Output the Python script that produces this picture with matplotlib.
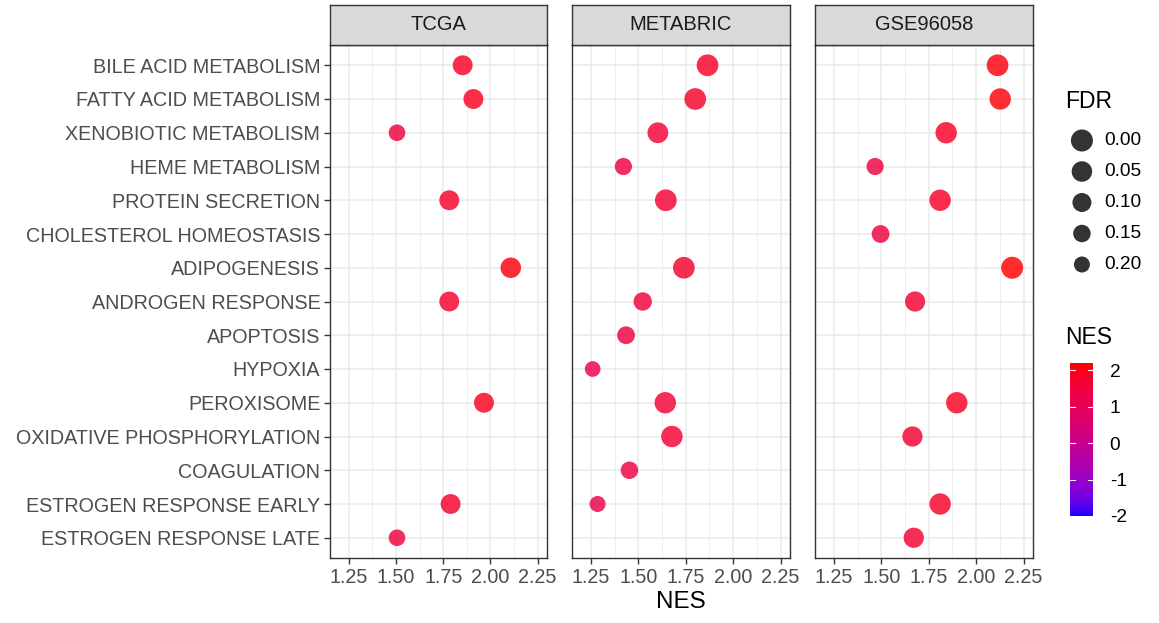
import numpy as np
import matplotlib
matplotlib.use("Agg")
import matplotlib.pyplot as plt
from matplotlib.colors import ListedColormap, Normalize
from matplotlib.cm import ScalarMappable

plt.rcParams["font.family"] = ["Liberation Sans", "DejaVu Sans"]

# data: pathways top to bottom, NaN = not enriched in that cohort
pathways = ["BILE ACID METABOLISM", "FATTY ACID METABOLISM", "XENOBIOTIC METABOLISM",
            "HEME METABOLISM", "PROTEIN SECRETION", "CHOLESTEROL HOMEOSTASIS",
            "ADIPOGENESIS", "ANDROGEN RESPONSE", "APOPTOSIS", "HYPOXIA",
            "PEROXISOME", "OXIDATIVE PHOSPHORYLATION", "COAGULATION",
            "ESTROGEN RESPONSE EARLY", "ESTROGEN RESPONSE LATE"]
datasets = ["TCGA", "METABRIC", "GSE96058"]
nan = np.nan
tcga_nes = [1.853, 1.910, 1.505, nan, 1.782, nan, 2.108, 1.782, nan, nan, 1.966, nan, nan, 1.789, 1.505]
tcga_fdr = [0.07, 0.07, 0.18, nan, 0.07, nan, 0.05, 0.07, nan, nan, 0.07, nan, nan, 0.07, 0.18]
metabric_nes = [1.865, 1.800, 1.603, 1.421, 1.645, nan, 1.740, 1.523, 1.435, 1.259, 1.642, 1.677, 1.453, 1.285, nan]
metabric_fdr = [0.01, 0.01, 0.04, 0.16, 0.01, nan, 0.01, 0.12, 0.14, 0.21, 0.02, 0.02, 0.15, 0.20, nan]
gse_nes = [2.113, 2.127, 1.842, 1.467, 1.810, 1.496, 2.190, 1.678, nan, nan, 1.898, 1.664, nan, 1.810, 1.671]
gse_fdr = [0.01, 0.02, 0.02, 0.16, 0.02, 0.14, 0.00, 0.06, nan, nan, 0.02, 0.06, nan, 0.02, 0.06]
fdr_breaks = [0.00, 0.05, 0.10, 0.15, 0.20]
nes_breaks = [-2, -1, 0, 1, 2]

nes_all = [tcga_nes, metabric_nes, gse_nes]
fdr_all = [tcga_fdr, metabric_fdr, gse_fdr]


# ggplot-like blue -> red gradient, interpolated in Lab space
M = np.array([[0.4124, 0.3576, 0.1805], [0.2126, 0.7152, 0.0722], [0.0193, 0.1192, 0.9505]])
WHITE = np.array([0.95047, 1.0, 1.08883])


def to_lab(c):
    c = np.asarray(c, float)
    lin = np.where(c <= 0.04045, c / 12.92, ((c + 0.055) / 1.055) ** 2.4)
    xyz = M @ lin / WHITE
    f = np.where(xyz > 216 / 24389, np.cbrt(xyz), (24389 / 27 * xyz + 16) / 116)
    return np.array([116 * f[1] - 16, 500 * (f[0] - f[1]), 200 * (f[1] - f[2])])


def from_lab(lab):
    L, a, b = lab
    fy = (L + 16) / 116
    f = np.array([fy + a / 500, fy, fy - b / 200])
    xyz = np.where(f ** 3 > 216 / 24389, f ** 3, (116 * f - 16) / (24389 / 27)) * WHITE
    lin = np.clip(np.linalg.inv(M) @ xyz, 0, 1)
    return np.clip(np.where(lin <= 0.0031308, 12.92 * lin, 1.055 * lin ** (1 / 2.4) - 0.055), 0, 1)


lo, hi = to_lab([0, 0, 1]), to_lab([1, 0, 0])
cmap = ListedColormap([from_lab(lo + t * (hi - lo)) for t in np.linspace(0, 1, 256)])
norm = Normalize(vmin=-2, vmax=2.2)


def size_of(fdr):
    d_px = 22 - 30 * np.asarray(fdr, float)
    return (d_px * 0.72) ** 2


W, H = 1159, 623
fig = plt.figure(figsize=(W / 100, H / 100), dpi=100)


def rect(x0, y0, x1, y1):
    return [x0 / W, 1 - y1 / H, (x1 - x0) / W, (y1 - y0) / H]


panels = [(330, 547), (572, 790), (815, 1033)]
ypos = np.arange(len(pathways))[::-1] + 1
edge = "#333333"

for i, (name, (x0, x1)) in enumerate(zip(datasets, panels)):
    ax = fig.add_axes(rect(x0, 45, x1, 558))
    ax.set_xlim(1.15, 2.30)
    ax.set_ylim(0.4, len(pathways) + 0.6)
    ax.set_xticks([1.25, 1.5, 1.75, 2.0, 2.25])
    ax.set_xticks([1.375, 1.625, 1.875, 2.125], minor=True)
    ax.set_yticks(ypos)
    ax.grid(True, which="major", color="#EBEBEB", lw=1.1)
    ax.grid(True, which="minor", axis="x", color="#EBEBEB", lw=0.55)
    ax.set_axisbelow(True)
    for s in ax.spines.values():
        s.set_color(edge)
        s.set_linewidth(1.0)
    ax.tick_params(axis="both", which="major", length=4, width=1, color=edge,
                   labelcolor="#4D4D4D", labelsize=14.2, pad=3)
    ax.tick_params(which="minor", length=0)
    if i == 0:
        ax.set_yticklabels(pathways)
    else:
        ax.tick_params(axis="y", length=0, labelleft=False)
    ax.set_xticklabels(["1.25", "1.50", "1.75", "2.00", "2.25"])
    nes = np.array(nes_all[i])
    fdr = np.array(fdr_all[i])
    ok = ~np.isnan(nes)
    ax.scatter(nes[ok], ypos[ok], s=size_of(fdr[ok]), c=nes[ok], cmap=cmap, norm=norm,
               alpha=0.82, linewidths=0, zorder=3)
    if i == 1:
        ax.set_xlabel("NES", fontsize=17.5, color="black", labelpad=3)

    st = fig.add_axes(rect(x0, 5, x1, 45))
    st.set_facecolor("#D9D9D9")
    st.set_xticks([])
    st.set_yticks([])
    for s in st.spines.values():
        s.set_color(edge)
        s.set_linewidth(1.0)
    st.text(0.5, 0.5, name, ha="center", va="center", fontsize=14.5, color="#1A1A1A",
            transform=st.transAxes)

# FDR size legend
fig.text(1065 / W, 1 - 102 / H, "FDR", fontsize=16.5, va="center", ha="left")
lg = fig.add_axes(rect(1065, 125, 1159, 280))
lg.set_xlim(0, 1)
lg.set_ylim(len(fdr_breaks) - 0.5, -0.5)
lg.axis("off")
ky = np.arange(len(fdr_breaks))
lg.scatter(np.full(len(fdr_breaks), 0.18), ky, s=size_of(fdr_breaks), color="#333333",
           linewidths=0, clip_on=False)
for k, b in zip(ky, fdr_breaks):
    lg.text(0.42, k, f"{b:.2f}", fontsize=13.8, va="center", ha="left")

# NES colour bar
fig.text(1065 / W, 1 - 338 / H, "NES", fontsize=16.5, va="center", ha="left")
cax = fig.add_axes(rect(1070, 363, 1093, 516))
cb = fig.colorbar(ScalarMappable(norm=norm, cmap=cmap), cax=cax, ticks=nes_breaks)
cb.outline.set_visible(False)
cax.tick_params(length=0, labelsize=13.8, pad=12)
cax.set_yticklabels([str(b) for b in nes_breaks])
for b in nes_breaks:
    cax.plot([0, 0.2], [b, b], color="white", lw=0.8)
    cax.plot([0.8, 1], [b, b], color="white", lw=0.8)

fig.savefig("out.png", dpi=100)
